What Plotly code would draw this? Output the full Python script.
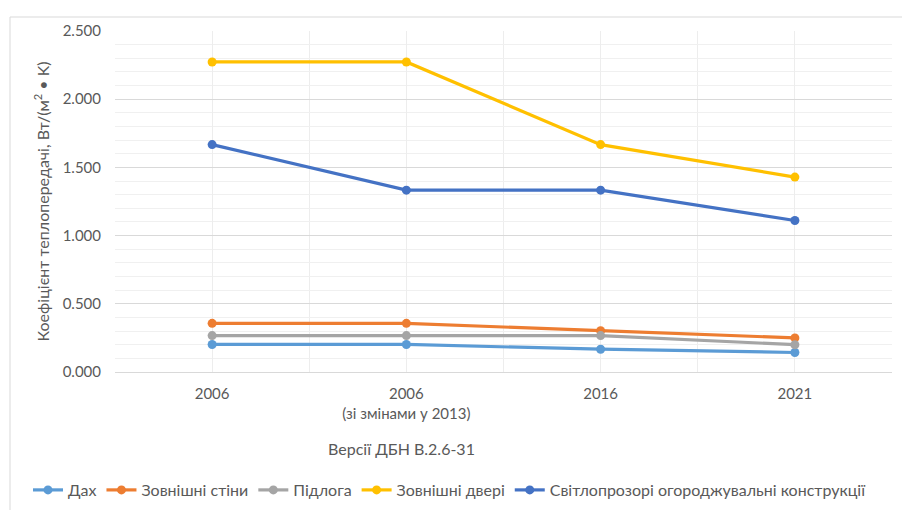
import plotly.graph_objects as go

categories = ["2006", "2006<br>(зі змінами у 2013)", "2016", "2021"]
series_names = ["Дах", "Зовнішні стіни", "Підлога", "Зовнішні двері",
                "Світлопрозорі огороджувальні конструкції"]
roof = [0.202, 0.202, 0.167, 0.143]
walls = [0.357, 0.357, 0.303, 0.250]
floor = [0.267, 0.267, 0.267, 0.200]
doors = [2.273, 2.273, 1.667, 1.429]
windows = [1.667, 1.333, 1.333, 1.111]
colors = ["#5B9BD5", "#ED7D31", "#A5A5A5", "#FFC000", "#4472C4"]

FONT = "Lato, Carlito, Liberation Sans, Arial"
TXT = "#595959"

xpos = list(range(len(categories)))
fig = go.Figure()
for name, vals, c in zip(series_names, [roof, walls, floor, doors, windows], colors):
    fig.add_trace(go.Scatter(
        x=xpos, y=vals, name=name, mode="lines+markers",
        line=dict(color=c, width=3.2),
        marker=dict(color=c, size=9, symbol="circle"),
    ))

PW, PH = 777, 341
fig.update_layout(
    width=902, height=510,
    margin=dict(l=115, r=10, t=31, b=138, autoexpand=False),
    paper_bgcolor="white", plot_bgcolor="white",
    font=dict(family=FONT, color=TXT, size=15),
    showlegend=True,
    legend=dict(orientation="h", xref="paper", yref="paper",
                x=(28 - 115) / PW, y=-(490 - 372) / PH,
                xanchor="left", yanchor="middle",
                font=dict(size=16, color=TXT), itemwidth=30,
                tracegroupgap=0, bgcolor="rgba(0,0,0,0)"),
    xaxis=dict(
        range=[-0.5, 3.5], tickmode="array", tickvals=xpos, ticktext=categories,
        showgrid=True, gridcolor="#EDEDED", gridwidth=1,
        minor=dict(tickmode="linear", tick0=-0.5, dtick=0.5, showgrid=True,
                   gridcolor="#EDEDED", ticks=""),
        showline=True, linecolor="#D9D9D9", linewidth=1, zeroline=False,
        ticks="", tickfont=dict(size=15, color=TXT), ticklabelstandoff=8,
        automargin=False,
    ),
    yaxis=dict(
        range=[0, 2.5], dtick=0.5, tickformat=".3f",
        showgrid=True, gridcolor="#D9D9D9", gridwidth=1,
        minor=dict(dtick=0.1, showgrid=True, gridcolor="#F0F0F0"),
        zeroline=False, showline=False, ticks="",
        tickfont=dict(size=15, color=TXT), ticklabelstandoff=13,
        automargin=False,
        title=dict(text="Коефіцієнт теплопередачі, Вт/(м<sup>2</sup> • K)",
                   font=dict(size=16, color=TXT), standoff=9),
    ),
    shapes=[dict(type="rect", xref="paper", yref="paper",
                 x0=-105 / PW, x1=1.2, y0=-0.8, y1=1 + 14 / PH,
                 line=dict(color="#D9D9D9", width=1), layer="above")],
    annotations=[dict(text="Версії ДБН В.2.6-31", xref="paper", yref="paper",
                      x=(401 - 115) / PW, y=-(448 - 372) / PH,
                      xanchor="center", yanchor="middle", showarrow=False,
                      font=dict(size=16, color=TXT))],
)

fig.write_html("out.html")
